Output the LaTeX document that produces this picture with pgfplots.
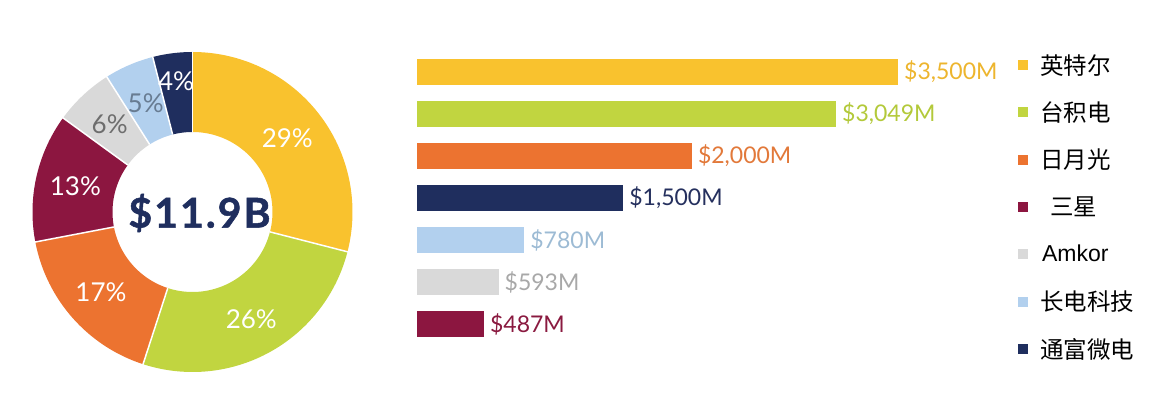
\documentclass[border=0pt]{standalone}
\usepackage{pgfplots}
\pgfplotsset{compat=1.18}
\usepackage{pgfplotstable}
\usepackage{fontspec}
\setmainfont{Lato}
\newfontfamily\cjk{Noto Sans CJK SC}
\newfontfamily\arial{Liberation Sans}

\definecolor{cYel}{HTML}{F9C22E}
\definecolor{cGrn}{HTML}{C1D540}
\definecolor{cOra}{HTML}{EC7330}
\definecolor{cMar}{HTML}{8C1640}
\definecolor{cGry}{HTML}{D9D9D9}
\definecolor{cLbl}{HTML}{B2D0EE}
\definecolor{cNav}{HTML}{1F2E5E}
\definecolor{tYel}{HTML}{EDB52E}
\definecolor{tGrn}{HTML}{B3C93A}
\definecolor{tOra}{HTML}{E2793A}
\definecolor{tNav}{HTML}{25305E}
\definecolor{tLbl}{HTML}{9DBBD4}
\definecolor{tGry}{HTML}{A8A8A8}
\definecolor{tMar}{HTML}{8A1A40}
\definecolor{tGsix}{HTML}{6E6E6E}
\definecolor{tBfive}{HTML}{687C92}

% donut: share (%), slice colour, label colour, label radius
\pgfplotstableread{
pct col lab r
29 cYel white 120
26 cGrn white 122
17 cOra white 122
13 cMar white 120
6 cGry tGsix 121
5 cLbl tBfive 118
4 cNav white 132
}\donut

\begin{document}
\begin{tikzpicture}
\path[use as bounding box] (0pt,0pt) rectangle (1166pt,398pt);

% ---------------- donut ----------------
\begin{axis}[at={(32.5pt,26pt)}, anchor=south west, scale only axis,
  width=320pt, height=320pt, xmin=-160, xmax=160, ymin=-160, ymax=160,
  hide axis, clip=false]
\def\angstart{90}
\pgfplotsforeachungrouped \i in {0,...,6}{%
  \pgfplotstablegetelem{\i}{pct}\of\donut \let\slicepct\pgfplotsretval
  \pgfplotstablegetelem{\i}{col}\of\donut \let\slicecol\pgfplotsretval
  \pgfplotstablegetelem{\i}{lab}\of\donut \let\labcol\pgfplotsretval
  \pgfplotstablegetelem{\i}{r}\of\donut \let\labr\pgfplotsretval
  \pgfmathsetmacro\angend{\angstart-3.6*\slicepct}
  \pgfmathsetmacro\angmid{(\angstart+\angend)/2}
  \pgfmathsetmacro\lx{\labr*cos(\angmid)}
  \pgfmathsetmacro\ly{\labr*sin(\angmid)}
  \edef\cmd{\noexpand\addplot[color=\slicecol, line width=80pt, domain=\angend:\angstart, samples=90] ({120*cos(x)},{120*sin(x)});
    \noexpand\node[text=\labcol, font=\noexpand\fontsize{26}{30}\noexpand\selectfont] at (axis cs:\lx,\ly) {\slicepct\noexpand\%};}%
  \cmd
  \let\angstart\angend
}
\def\angstart{90}
\pgfplotsforeachungrouped \i in {0,...,6}{%
  \pgfplotstablegetelem{\i}{pct}\of\donut \let\slicepct\pgfplotsretval
  \edef\cmd{\noexpand\addplot[white, line width=1.5pt, domain=80:160.5, samples=2] ({x*cos(\angstart)},{x*sin(\angstart)});}%
  \cmd
  \pgfmathsetmacro\angend{\angstart-3.6*\slicepct}
  \let\angstart\angend
}
\node[text=cNav, font=\bfseries\fontsize{41}{45}\selectfont\addfontfeature{LetterSpace=5,FakeBold=1.2}] at (axis cs:7,-1) {\$11.9B};
\end{axis}

% ---------------- bars ----------------
\begin{axis}[at={(417pt,53pt)}, anchor=south west, scale only axis,
  width=481pt, height=294pt, xmin=0, xmax=3500, ymin=-0.5, ymax=6.5,
  hide axis, clip=false, xbar, bar width=26pt, /pgf/bar shift=0pt,
  point meta=x,
  nodes near coords={\$\pgfmathprintnumber[assume math mode=true,fixed,precision=0,1000 sep={,}]{\pgfplotspointmeta}M},
  nodes near coords style={font=\fontsize{23}{27}\selectfont, anchor=west, inner xsep=6pt},
  legend image code/.code={\path[draw=none,#1,draw=none] (0pt,-5pt) rectangle (10pt,5pt);},
  legend style={at={(1.2495,1.0327)}, anchor=north west, draw=none, fill=none,
    inner sep=0pt, outer sep=0pt, row sep=0pt, column sep=12pt,
    nodes={minimum height=47.3pt, inner ysep=0pt, inner xsep=0pt, anchor=west,
      font=\cjk\fontsize{23.5}{27}\selectfont}},
  legend cell align=left]
\addplot[fill=cYel, draw=none, forget plot, every node near coord/.append style={text=tYel}] coordinates {(3500,6)};
\addplot[fill=cGrn, draw=none, forget plot, every node near coord/.append style={text=tGrn}] coordinates {(3049,5)};
\addplot[fill=cOra, draw=none, forget plot, every node near coord/.append style={text=tOra}] coordinates {(2000,4)};
\addplot[fill=cNav, draw=none, forget plot, every node near coord/.append style={text=tNav}] coordinates {(1500,3)};
\addplot[fill=cLbl, draw=none, forget plot, every node near coord/.append style={text=tLbl}] coordinates {(780,2)};
\addplot[fill=cGry, draw=none, forget plot, every node near coord/.append style={text=tGry}] coordinates {(593,1)};
\addplot[fill=cMar, draw=none, forget plot, every node near coord/.append style={text=tMar}] coordinates {(487,0)};
\addlegendimage{fill=cYel}\addlegendentry{英特尔}
\addlegendimage{fill=cGrn}\addlegendentry{台积电}
\addlegendimage{fill=cOra}\addlegendentry{日月光}
\addlegendimage{fill=cMar}\addlegendentry{\hspace*{10pt}三星}
\addlegendimage{fill=cGry}\addlegendentry{{\arial\fontsize{23}{27}\selectfont\hspace*{2pt}Amkor}}
\addlegendimage{fill=cLbl}\addlegendentry{长电科技}
\addlegendimage{fill=cNav}\addlegendentry{通富微电}
\end{axis}
\end{tikzpicture}
\end{document}
